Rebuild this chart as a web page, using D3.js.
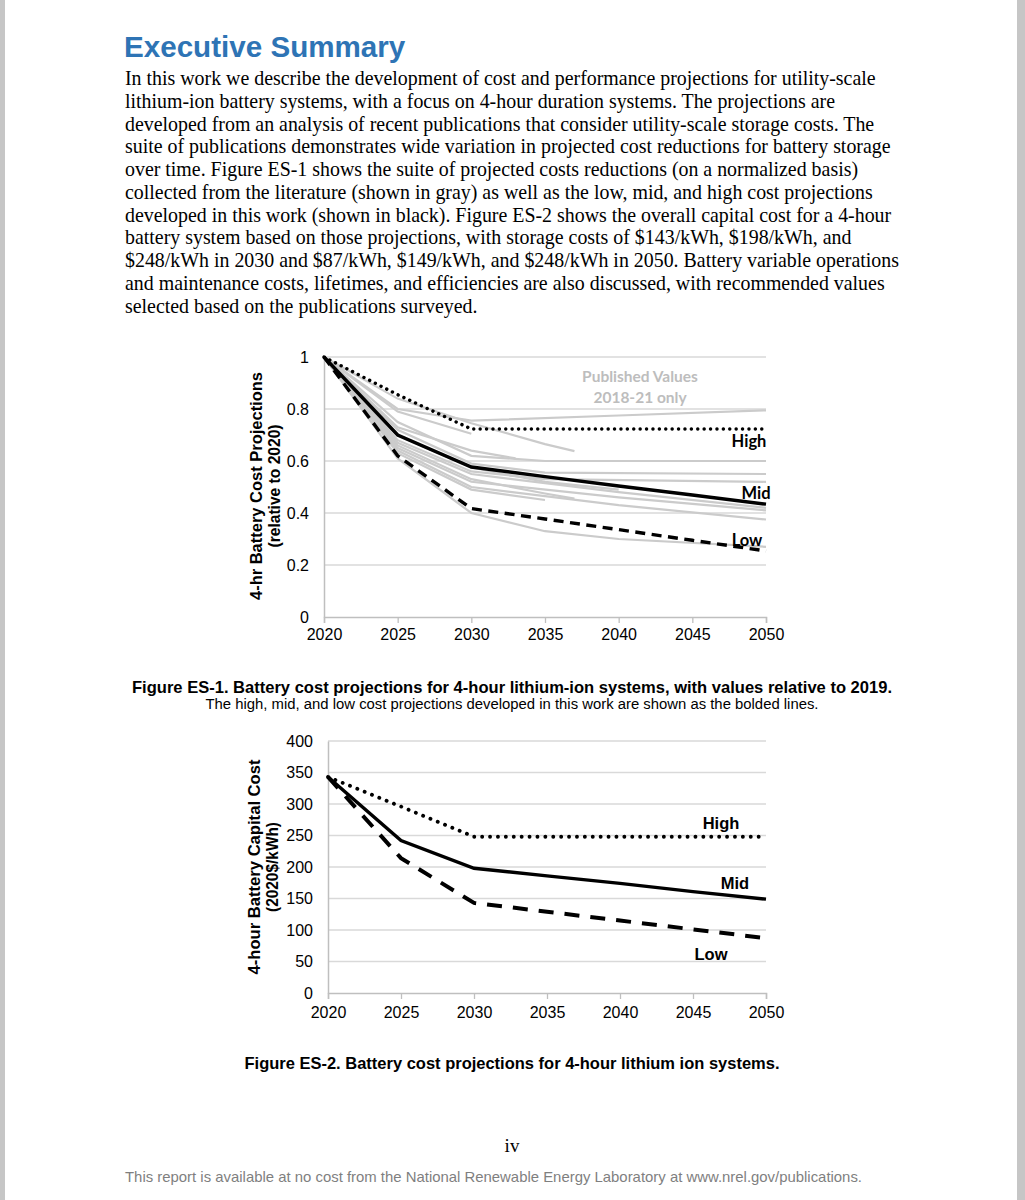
<!DOCTYPE html>
<html>
<head>
<meta charset="utf-8">
<script src="https://cdn.jsdelivr.net/npm/d3@7"></script>
<style>
  body { margin: 0; background: #fff; }
  svg { display: block; }
</style>
</head>
<body>
<svg id="page" width="1025" height="1200"></svg>
<script>

// ---- data ----
var years = [2020, 2025, 2030, 2035, 2040, 2045, 2050];

// Figure ES-1 (normalized to 2020)
var highNorm = [1, 0.855, 0.723, 0.723, 0.723, 0.723, 0.723];
var midNorm = [1, 0.70, 0.577, 0.540, 0.504, 0.469, 0.434];
var lowNorm = [1, 0.62, 0.417, 0.377, 0.336, 0.295, 0.254];

// published projections, [year, value] pairs (gray)
var publishedNorm = [
    [[2020, 1], [2025, 0.80], [2030, 0.755], [2040, 0.775], [2050, 0.795]],
    [[2020, 1], [2025, 0.84], [2030, 0.745], [2035, 0.665], [2037, 0.638]],
    [[2020, 1], [2025, 0.79], [2030, 0.705]],
    [[2020, 1], [2025, 0.75], [2030, 0.62], [2035, 0.60], [2050, 0.60]],
    [[2020, 1], [2025, 0.72], [2030, 0.59], [2035, 0.555], [2050, 0.55]],
    [[2020, 1], [2025, 0.68], [2030, 0.56], [2035, 0.53], [2050, 0.52]],
    [[2020, 1], [2025, 0.70], [2030, 0.575], [2035, 0.52], [2040, 0.49]],
    [[2020, 1], [2025, 0.66], [2030, 0.53], [2035, 0.475], [2037, 0.455]],
    [[2020, 1], [2025, 0.67], [2030, 0.55], [2040, 0.48], [2050, 0.42]],
    [[2020, 1], [2025, 0.65], [2030, 0.52], [2040, 0.46], [2050, 0.41]],
    [[2020, 1], [2025, 0.64], [2030, 0.50], [2040, 0.43], [2050, 0.375]],
    [[2020, 1], [2025, 0.61], [2030, 0.40], [2035, 0.33], [2040, 0.30], [2050, 0.27]],
    [[2020, 1], [2025, 0.63], [2030, 0.49], [2035, 0.45]],
    [[2020, 1], [2025, 0.73], [2030, 0.64], [2033, 0.61]]
];

// Figure ES-2 ($/kWh)
var highCost = [343, 296, 248, 248, 248, 248, 248];
var midCost = [343, 242, 198, 186, 174, 161, 149];
var lowCost = [343, 214, 143, 129, 115, 101, 87];

var normTicks = [0, 0.2, 0.4, 0.6, 0.8, 1];
var costTicks = [0, 50, 100, 150, 200, 250, 300, 350, 400];

var paragraph = [
    "In this work we describe the development of cost and performance projections for utility-scale",
    "lithium-ion battery systems, with a focus on 4-hour duration systems. The projections are",
    "developed from an analysis of recent publications that consider utility-scale storage costs. The",
    "suite of publications demonstrates wide variation in projected cost reductions for battery storage",
    "over time. Figure ES-1 shows the suite of projected costs reductions (on a normalized basis)",
    "collected from the literature (shown in gray) as well as the low, mid, and high cost projections",
    "developed in this work (shown in black). Figure ES-2 shows the overall capital cost for a 4-hour",
    "battery system based on those projections, with storage costs of $143/kWh, $198/kWh, and",
    "$248/kWh in 2030 and $87/kWh, $149/kWh, and $248/kWh in 2050. Battery variable operations",
    "and maintenance costs, lifetimes, and efficiencies are also discussed, with recommended values",
    "selected based on the publications surveyed."
];

var svg = d3.select("#page");
var sans = "'Liberation Sans', Arial, sans-serif";
var narrow = "'Liberation Sans Narrow', 'Arial Narrow', 'Liberation Sans', sans-serif";
var calib = "Lato, 'Open Sans', sans-serif";

svg.append("rect").attr("width", 1025).attr("height", 1200).attr("fill", "#fff");
svg.append("rect").attr("x", 0).attr("width", 5).attr("height", 1200).attr("fill", "#c6c6c6");
svg.append("rect").attr("x", 1017).attr("width", 8).attr("height", 1200).attr("fill", "#c6c6c6");

// header
svg.append("text")
    .attr("x", 124).attr("y", 57)
    .attr("font-family", sans).attr("font-weight", "bold")
    .attr("font-size", 29.6).attr("fill", "#2e74b5")
    .text("Executive Summary");

svg.append("g").selectAll("text")
    .data(paragraph)
    .join("text")
    .attr("x", 125)
    .attr("y", (d, i) => 85 + i * 22.75)
    .attr("font-family", "'Liberation Serif', 'Times New Roman', serif")
    .attr("font-size", 19.9)
    .attr("fill", "#000")
    .text(d => d);

function drawChart(opt) {
    var x = d3.scaleLinear().domain([2020, 2050]).range([opt.x0, opt.x1]);
    var y = d3.scaleLinear().domain(opt.yDomain).range([opt.y0, opt.y1]);
    var g = svg.append("g");

    // gridlines
    g.append("g").selectAll("line")
        .data(opt.yTicks.slice(1))
        .join("line")
        .attr("x1", opt.x0).attr("x2", opt.x1)
        .attr("y1", d => y(d)).attr("y2", d => y(d))
        .attr("stroke", "#d9d9d9").attr("stroke-width", 1.3);

    // axes
    var xAxis = g.append("g")
        .attr("transform", "translate(0," + opt.y0 + ")")
        .call(d3.axisBottom(x).tickValues(years).tickFormat(d3.format("d")).tickSize(6).tickPadding(opt.xPad));
    xAxis.select(".domain").attr("stroke", "#bfbfbf").attr("stroke-width", 1.5);
    xAxis.selectAll(".tick line").attr("stroke", "#bfbfbf").attr("stroke-width", 1.3);
    xAxis.selectAll("text").attr("font-family", sans).attr("font-size", 16).attr("fill", "#000");

    var yAxis = g.append("g")
        .attr("transform", "translate(" + opt.x0 + ",0)")
        .call(d3.axisLeft(y).tickValues(opt.yTicks).tickFormat(opt.yFormat).tickSize(0).tickPadding(opt.yPad));
    yAxis.select(".domain").attr("stroke", "#bfbfbf").attr("stroke-width", 1.5);
    yAxis.selectAll("text").attr("font-family", sans).attr("font-size", 16).attr("fill", "#000");

    // axis title, two lines
    opt.yTitle.forEach((t, i) => {
        g.append("text")
            .attr("transform", "translate(" + opt.titleX[i] + "," + opt.titleY + ") rotate(-90)")
            .attr("text-anchor", "middle")
            .attr("dy", "0.35em")
            .attr("font-family", sans).attr("font-weight", "bold")
            .attr("font-size", 16).attr("fill", "#000")
            .attr("textLength", opt.titleLen[i]).attr("lengthAdjust", "spacingAndGlyphs")
            .text(t);
    });

    return { x: x, y: y, g: g };
}

// ---- Figure ES-1 ----
var c1 = drawChart({
    x0: 324, x1: 766, y0: 617, y1: 357,
    yDomain: [0, 1], yTicks: normTicks, yFormat: d3.format(""), yPad: 15, xPad: 6,
    yTitle: ["4-hr Battery Cost Projections", "(relative to 2020)"],
    titleX: [256, 274], titleY: 486, titleLen: [228, 123]
});

var line1 = d3.line().x(d => c1.x(d[0])).y(d => c1.y(d[1]));

c1.g.append("g").selectAll("path")
    .data(publishedNorm)
    .join("path")
    .attr("d", line1)
    .attr("fill", "none")
    .attr("stroke", "#cbcbcb")
    .attr("stroke-width", 2.2);

c1.g.append("text")
    .attr("x", 640).attr("y", 382)
    .attr("text-anchor", "middle")
    .attr("font-family", calib).attr("font-weight", "bold").attr("font-size", 15.5)
    .attr("fill", "#bdbdbd").text("Published Values");
c1.g.append("text")
    .attr("x", 640).attr("y", 403)
    .attr("text-anchor", "middle")
    .attr("font-family", calib).attr("font-weight", "bold").attr("font-size", 15.5)
    .attr("fill", "#bdbdbd").text("2018-21 only");

var proj1 = [
    { v: highNorm, dash: "0.1 6.3", cap: "round", w: 3.4 },
    { v: midNorm, dash: null, cap: "butt", w: 3.4 },
    { v: lowNorm, dash: "10 6.5", cap: "butt", w: 3.4 }
];
proj1.forEach(p => {
    c1.g.append("path")
        .attr("d", line1(years.map((yr, i) => [yr, p.v[i]])))
        .attr("fill", "none")
        .attr("stroke", "#000")
        .attr("stroke-width", p.w)
        .attr("stroke-linecap", p.cap)
        .attr("stroke-dasharray", p.dash);
});

[["High", 749, 447], ["Mid", 756, 499], ["Low", 747, 546]].forEach(l => {
    c1.g.append("text")
        .attr("x", l[1]).attr("y", l[2])
        .attr("text-anchor", "middle")
        .attr("font-family", calib).attr("font-weight", "bold").attr("font-size", 16.5)
        .attr("fill", "#000").text(l[0]);
});

// captions
svg.append("text")
    .attr("x", 512).attr("y", 693)
    .attr("text-anchor", "middle")
    .attr("font-family", narrow).attr("font-weight", "bold").attr("font-size", 16.5)
    .attr("textLength", 760).attr("lengthAdjust", "spacingAndGlyphs")
    .text("Figure ES-1. Battery cost projections for 4-hour lithium-ion systems, with values relative to 2019.");
svg.append("text")
    .attr("x", 512).attr("y", 709)
    .attr("text-anchor", "middle")
    .attr("font-family", narrow).attr("font-size", 14)
    .attr("textLength", 613).attr("lengthAdjust", "spacingAndGlyphs")
    .text("The high, mid, and low cost projections developed in this work are shown as the bolded lines.");

// ---- Figure ES-2 ----
var c2 = drawChart({
    x0: 328, x1: 766, y0: 993, y1: 741,
    yDomain: [0, 400], yTicks: costTicks, yFormat: d3.format("d"), yPad: 15, xPad: 8,
    yTitle: ["4-hour Battery Capital Cost", "(2020$/kWh)"],
    titleX: [254, 272], titleY: 867, titleLen: [215, 90]
});

var line2 = d3.line().x(d => c2.x(d[0])).y(d => c2.y(d[1]));

var proj2 = [
    { v: highCost, dash: "0.1 7.8", cap: "round", w: 3.8 },
    { v: midCost, dash: null, cap: "butt", w: 3.4 },
    { v: lowCost, dash: "15 11", cap: "butt", w: 4 }
];
proj2.forEach(p => {
    c2.g.append("path")
        .attr("d", line2(years.map((yr, i) => [yr, p.v[i]])))
        .attr("fill", "none")
        .attr("stroke", "#000")
        .attr("stroke-width", p.w)
        .attr("stroke-linecap", p.cap)
        .attr("stroke-dasharray", p.dash);
});

[["High", 721, 829], ["Mid", 735, 889], ["Low", 711, 960]].forEach(l => {
    c2.g.append("text")
        .attr("x", l[1]).attr("y", l[2])
        .attr("text-anchor", "middle")
        .attr("font-family", sans).attr("font-weight", "bold").attr("font-size", 16.5)
        .attr("fill", "#000").text(l[0]);
});

svg.append("text")
    .attr("x", 512).attr("y", 1069)
    .attr("text-anchor", "middle")
    .attr("font-family", narrow).attr("font-weight", "bold").attr("font-size", 16.5)
    .attr("textLength", 535).attr("lengthAdjust", "spacingAndGlyphs")
    .text("Figure ES-2. Battery cost projections for 4-hour lithium ion systems.");

// footer
svg.append("text")
    .attr("x", 512).attr("y", 1152)
    .attr("text-anchor", "middle")
    .attr("font-family", "'Liberation Serif', serif").attr("font-size", 19)
    .text("iv");
svg.append("text")
    .attr("x", 125).attr("y", 1182)
    .attr("font-family", narrow).attr("font-size", 15)
    .attr("fill", "#7f7f7f")
    .attr("textLength", 737).attr("lengthAdjust", "spacingAndGlyphs")
    .text("This report is available at no cost from the National Renewable Energy Laboratory at www.nrel.gov/publications.");
</script>
</body>
</html>
